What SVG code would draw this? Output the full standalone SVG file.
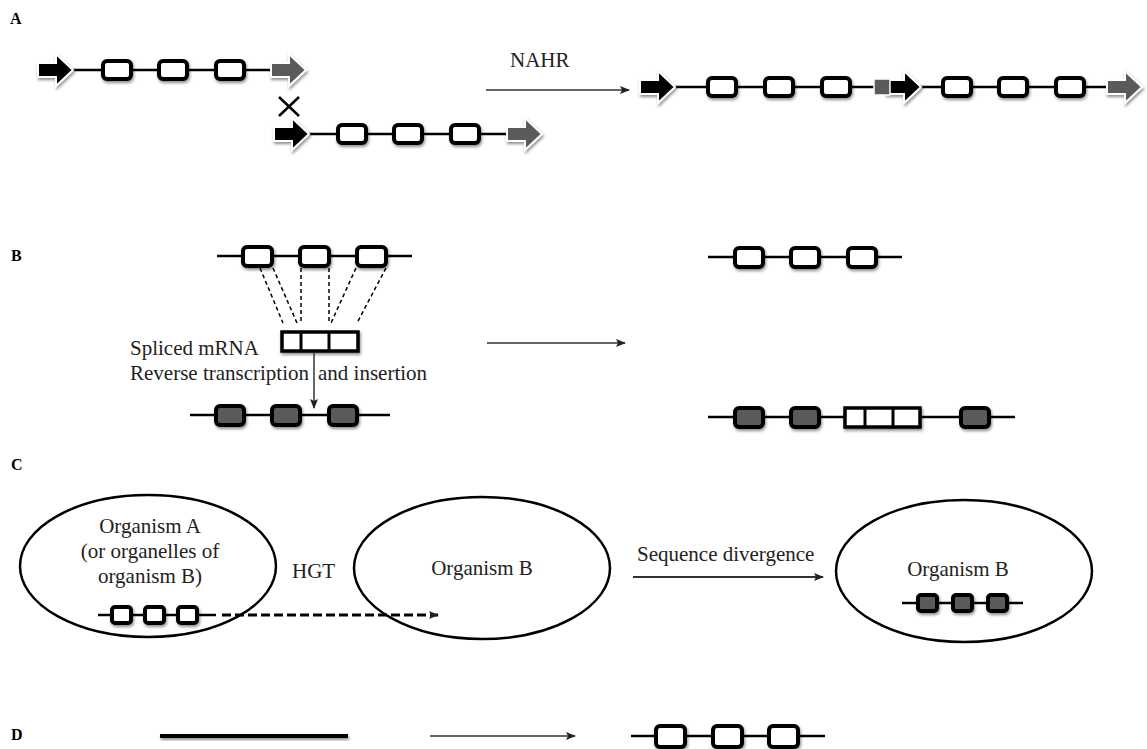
<svg xmlns="http://www.w3.org/2000/svg" width="1147" height="749" viewBox="0 0 1147 749">
<defs>
<filter id="sh" x="-40%" y="-40%" width="180%" height="200%"><feDropShadow dx="1" dy="2" stdDeviation="1.5" flood-color="#000" flood-opacity="0.45"/></filter>
<marker id="ah" markerWidth="10" markerHeight="8" refX="9" refY="4" orient="auto" markerUnits="userSpaceOnUse"><path d="M0,0 L10,4 L0,8 L2,4 Z" fill="#222"/></marker>
<path id="barrow" d="M0,-7 L18,-7 L18,-16 L35,0 L18,16 L18,7 L0,7 Z"/>
</defs>
<style>
.ex{fill:#fff;stroke:#000;stroke-width:4;filter:url(#sh)}
.exg{fill:#5a5a5a;stroke:#000;stroke-width:4;filter:url(#sh)}
.ln{stroke:#000;stroke-width:2.5;fill:none}
.ba{fill:#000;stroke:#fff;stroke-width:2;filter:url(#sh)}
.ga{fill:#5a5a5a;stroke:#fff;stroke-width:2;filter:url(#sh)}
.t{font-family:"Liberation Serif",serif;font-size:21px;fill:#222}
.lab{font-family:"Liberation Serif",serif;font-size:16px;font-weight:bold;fill:#000}
.con{stroke:#333;stroke-width:1.5;fill:none;marker-end:url(#ah)}
.dash{stroke:#000;stroke-width:1.5;stroke-dasharray:4,3;fill:none}
.ell{fill:none;stroke:#000;stroke-width:2.5}
.box{fill:#fff;stroke:#000;stroke-width:3.5}
</style>

<g id="labels">
<text class="lab" x="10" y="24">A</text>
<text class="lab" x="11" y="261">B</text>
<text class="lab" x="11" y="470">C</text>
<text class="lab" x="11" y="740">D</text>
</g>

<!-- Section A -->
<g id="a-row1">
<line class="ln" x1="70" y1="70" x2="272" y2="70"/>
<use href="#barrow" class="ba" x="38" y="70"/>
<rect class="ex" x="103" y="61" width="28" height="18" rx="4"/>
<rect class="ex" x="159" y="61" width="28" height="18" rx="4"/>
<rect class="ex" x="216" y="61" width="28" height="18" rx="4"/>
<use href="#barrow" class="ga" x="271" y="70"/>
</g>
<g id="a-cross">
<line x1="279" y1="97" x2="299" y2="116" stroke="#000" stroke-width="2.5"/>
<line x1="299" y1="97" x2="279" y2="116" stroke="#000" stroke-width="2.5"/>
</g>
<g id="a-row2">
<line class="ln" x1="305" y1="134" x2="508" y2="134"/>
<use href="#barrow" class="ba" x="274" y="134"/>
<rect class="ex" x="338" y="125" width="28" height="18" rx="4"/>
<rect class="ex" x="394" y="125" width="28" height="18" rx="4"/>
<rect class="ex" x="451" y="125" width="28" height="18" rx="4"/>
<use href="#barrow" class="ga" x="507" y="134"/>
</g>
<g id="a-nahr">
<text class="t" x="510" y="67">NAHR</text>
</g>
<g id="a-row3">
<line class="ln" x1="672" y1="87" x2="1110" y2="87"/>
<use href="#barrow" class="ba" x="640" y="87"/>
<rect class="ex" x="708" y="78" width="28" height="18" rx="4"/>
<rect class="ex" x="765" y="78" width="28" height="18" rx="4"/>
<rect class="ex" x="822" y="78" width="28" height="18" rx="4"/>
<use href="#barrow" class="ba" x="886" y="87"/>
<rect x="874" y="79" width="16" height="16" fill="#5a5a5a" stroke="#fff" stroke-width="1.5"/>
<rect class="ex" x="943" y="78" width="28" height="18" rx="4"/>
<rect class="ex" x="999" y="78" width="28" height="18" rx="4"/>
<rect class="ex" x="1056" y="78" width="28" height="18" rx="4"/>
<use href="#barrow" class="ga" x="1107" y="87"/>
</g>

<!-- Section B -->
<g id="b-gene">
<line class="ln" x1="217" y1="256" x2="412" y2="256"/>
<rect class="ex" x="243" y="247" width="29" height="19" rx="4"/>
<rect class="ex" x="300" y="247" width="29" height="19" rx="4"/>
<rect class="ex" x="357" y="247" width="29" height="19" rx="4"/>
</g>
<g id="b-mrna">
<rect class="box" x="282" y="332" width="76" height="19" filter="url(#sh)"/>
<line x1="301" y1="332" x2="301" y2="351" stroke="#000" stroke-width="3"/>
<line x1="329" y1="332" x2="329" y2="351" stroke="#000" stroke-width="3"/>
</g>
<g id="b-text">
<text class="t" x="130" y="355">Spliced mRNA</text>
<text class="t" x="130" y="380">Reverse transcription</text>
<text class="t" x="318" y="380">and insertion</text>
</g>
<g id="b-target">
<line class="ln" x1="190" y1="415" x2="390" y2="415"/>
<rect class="exg" x="216" y="406" width="28" height="19" rx="4"/>
<rect class="exg" x="272" y="406" width="28" height="19" rx="4"/>
<rect class="exg" x="329" y="406" width="28" height="19" rx="4"/>
</g>
<g id="b-result-top">
<line class="ln" x1="708" y1="257" x2="902" y2="257"/>
<rect class="ex" x="735" y="248" width="28" height="19" rx="4"/>
<rect class="ex" x="791" y="248" width="28" height="19" rx="4"/>
<rect class="ex" x="848" y="248" width="28" height="19" rx="4"/>
</g>
<g id="b-result-bottom">
<line class="ln" x1="708" y1="417" x2="1015" y2="417"/>
<rect class="exg" x="735" y="408" width="28" height="19" rx="4"/>
<rect class="exg" x="791" y="408" width="28" height="19" rx="4"/>
<rect class="box" x="845" y="408" width="75" height="19" filter="url(#sh)"/>
<line x1="865" y1="408" x2="865" y2="427" stroke="#000" stroke-width="3"/>
<line x1="893" y1="408" x2="893" y2="427" stroke="#000" stroke-width="3"/>
<rect class="exg" x="961" y="408" width="28" height="19" rx="4"/>
</g>

<!-- Section C -->
<g id="c-orgA">
<ellipse class="ell" cx="148" cy="566" rx="128" ry="71"/>
<text class="t" x="150" y="533" text-anchor="middle">Organism A</text>
<text class="t" x="150" y="558" text-anchor="middle">(or organelles of</text>
<text class="t" x="150" y="583" text-anchor="middle">organism B)</text>
<line class="ln" x1="98" y1="615" x2="216" y2="615"/>
<rect class="ex" x="112" y="607" width="19" height="16" rx="3"/>
<rect class="ex" x="145" y="607" width="19" height="16" rx="3"/>
<rect class="ex" x="178" y="607" width="19" height="16" rx="3"/>
</g>
<g id="c-hgt">
<text class="t" x="292" y="578">HGT</text>
</g>
<g id="c-orgB1">
<ellipse class="ell" cx="482" cy="568" rx="128" ry="71"/>
<text class="t" x="482" y="575" text-anchor="middle">Organism B</text>
</g>
<g id="c-seqdiv">
<text class="t" x="637" y="561">Sequence divergence</text>
</g>
<g id="c-orgB2">
<ellipse class="ell" cx="964" cy="571" rx="128" ry="71"/>
<text class="t" x="958" y="576" text-anchor="middle">Organism B</text>
<line class="ln" x1="902" y1="603" x2="1023" y2="603"/>
<rect class="exg" x="918" y="595" width="19" height="16" rx="3"/>
<rect class="exg" x="953" y="595" width="19" height="16" rx="3"/>
<rect class="exg" x="988" y="595" width="19" height="16" rx="3"/>
</g>

<!-- Section D -->
<g id="d-line">
<rect x="160" y="734" width="188" height="4" fill="#000" filter="url(#sh)"/>
</g>
<g id="d-gene">
<line class="ln" x1="631" y1="736" x2="825" y2="736"/>
<rect class="ex" x="656" y="726" width="29" height="21" rx="4"/>
<rect class="ex" x="713" y="726" width="29" height="21" rx="4"/>
<rect class="ex" x="769" y="726" width="29" height="21" rx="4"/>
</g>

<g id="connectors">
<line class="con" x1="486" y1="90" x2="629" y2="90"/>
<line class="dash" x1="260" y1="268" x2="283" y2="323"/>
<line class="dash" x1="273" y1="268" x2="297" y2="323"/>
<line class="dash" x1="301" y1="268" x2="301" y2="323"/>
<line class="dash" x1="329" y1="268" x2="329" y2="323"/>
<line class="dash" x1="356" y1="268" x2="331" y2="323"/>
<line class="dash" x1="386" y1="268" x2="357" y2="323"/>
<line class="con" x1="314" y1="352" x2="314" y2="408"/>
<line class="con" x1="487" y1="343" x2="625" y2="343"/>
<line x1="222" y1="615" x2="438" y2="615" stroke="#000" stroke-width="3" stroke-dasharray="9,4" marker-end="url(#ah)"/>
<line class="con" x1="633" y1="577" x2="823" y2="577" style="stroke-width:2"/>
<line class="con" x1="430" y1="736" x2="575" y2="736"/>
</g>
</svg>
